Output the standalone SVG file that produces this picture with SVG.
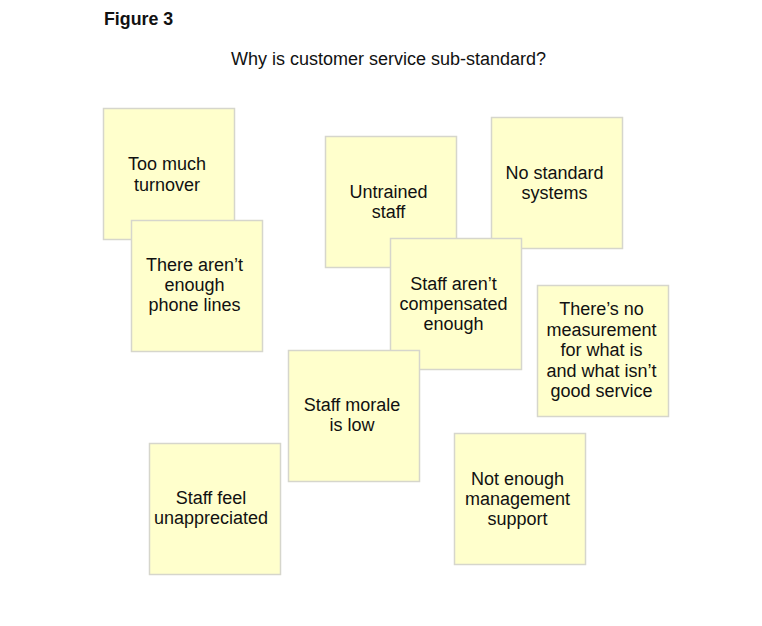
<svg xmlns="http://www.w3.org/2000/svg" width="762" height="626" viewBox="0 0 762 626">
<style>
.note{fill:#ffffcc;stroke:#d6d6cc;stroke-width:1.5}
.t{font-family:"Liberation Sans",Arial,sans-serif;font-size:18px;fill:#111;text-anchor:middle}
.h{font-family:"Liberation Sans",Arial,sans-serif;fill:#111}
</style>
<rect width="762" height="626" fill="#fff"/>
<text class="h" x="104" y="25" font-size="17.8" font-weight="bold">Figure 3</text>
<text class="h" x="231" y="65" font-size="18">Why is customer service sub-standard?</text>
<g id="turnover"><rect class="note" x="103.5" y="108.5" width="131" height="131"/>
<text class="t" x="167" y="170">Too much</text><text class="t" x="167" y="190.5">turnover</text></g>
<g id="phonelines"><rect class="note" x="131.5" y="220.5" width="131" height="131"/>
<text class="t" x="194.5" y="271">There aren’t</text><text class="t" x="194.5" y="291">enough</text><text class="t" x="194.5" y="311">phone lines</text></g>
<g id="untrained"><rect class="note" x="325.5" y="136.5" width="131" height="131"/>
<text class="t" x="388.5" y="198">Untrained</text><text class="t" x="388.5" y="218">staff</text></g>
<g id="nostandard"><rect class="note" x="491.5" y="117.5" width="131" height="131"/>
<text class="t" x="554.5" y="179">No standard</text><text class="t" x="554.5" y="199">systems</text></g>
<g id="compensated"><rect class="note" x="390.5" y="238.5" width="131" height="131"/>
<text class="t" x="453.5" y="290">Staff aren’t</text><text class="t" x="453.5" y="310">compensated</text><text class="t" x="453.5" y="330">enough</text></g>
<g id="measurement"><rect class="note" x="537.5" y="285.5" width="131" height="131"/>
<text class="t" x="601.5" y="315">There’s no</text><text class="t" x="601.5" y="335.5">measurement</text><text class="t" x="601.5" y="356">for what is</text><text class="t" x="601.5" y="376.5">and what isn’t</text><text class="t" x="601.5" y="397">good service</text></g>
<g id="morale"><rect class="note" x="288.5" y="350.5" width="131" height="131"/>
<text class="t" x="352" y="411">Staff morale</text><text class="t" x="352" y="431">is low</text></g>
<g id="unappreciated"><rect class="note" x="149.5" y="443.5" width="131" height="131"/>
<text class="t" x="211" y="504">Staff feel</text><text class="t" x="211" y="524">unappreciated</text></g>
<g id="management"><rect class="note" x="454.5" y="433.5" width="131" height="131"/>
<text class="t" x="517.5" y="485">Not enough</text><text class="t" x="517.5" y="505">management</text><text class="t" x="517.5" y="525">support</text></g>
<g id="connectors"></g>
</svg>
